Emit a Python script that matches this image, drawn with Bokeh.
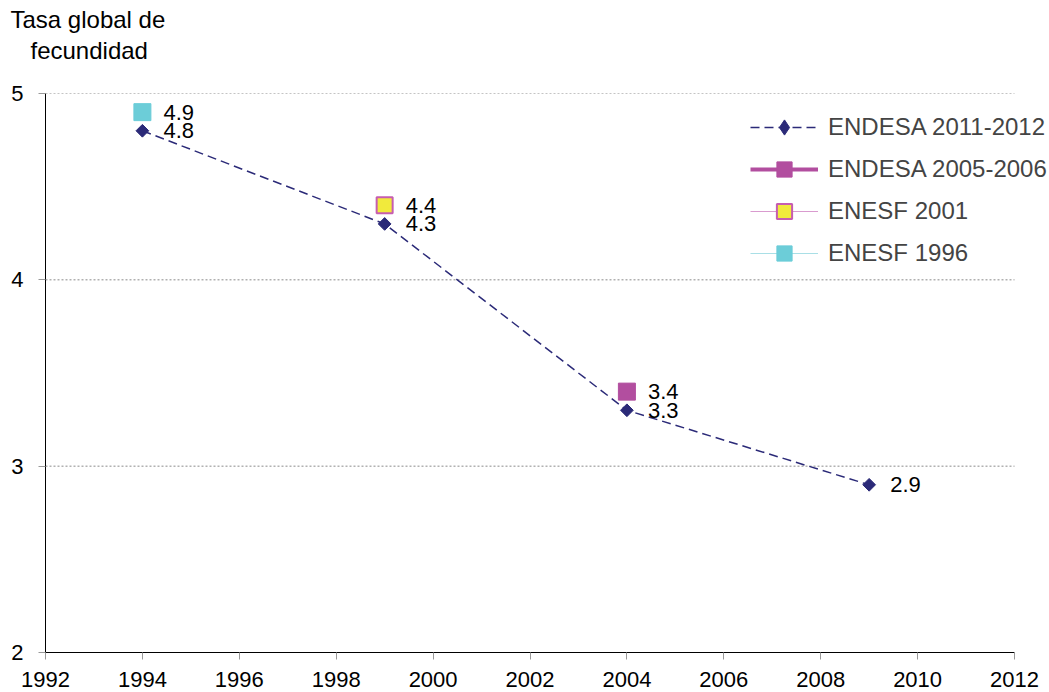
import math
from bokeh.plotting import figure
from bokeh.models import Range1d, FixedTicker, Legend, LegendItem, ColumnDataSource, Title
from bokeh.embed import file_html
from bokeh.resources import INLINE
from bokeh.core.properties import value

# ---- data ----
years_2011 = [1994, 1999, 2004, 2009]
tgf_2011 = [4.8, 4.3, 3.3, 2.9]
years_2005 = [2004]
tgf_2005 = [3.4]
years_2001 = [1999]
tgf_2001 = [4.4]
years_1996 = [1994]
tgf_1996 = [4.9]
series_names = ["ENDESA 2011-2012", "ENDESA 2005-2006", "ENESF 2001", "ENESF 1996"]
x_ticks = list(range(1992, 2013, 2))
y_ticks = [2, 3, 4, 5]
grid_levels = [3, 4, 5]
y_title_lines = ["Tasa global de", "fecundidad"]

FONT = "Liberation Sans"
NAVY = "#2B2A78"
MAGENTA = "#B24E9F"
PINK = "#C65DB0"
YELLOW = "#F1EA3C"
CYAN = "#6CCDD8"

# frame spans 45..1014 px for 1992..2012; extend the range to the right edge so the legend fits
px_per_year = 969 / 20.0
x_end = x_ticks[-1] + 35 / px_per_year

p = figure(width=1049, height=692, output_backend="svg", toolbar_location=None,
           x_range=Range1d(x_ticks[0], x_end), y_range=Range1d(y_ticks[0], y_ticks[-1]),
           min_border_left=45, min_border_right=0, min_border_top=93, min_border_bottom=40)
p.title_location = None
p.outline_line_color = None
p.background_fill_color = "white"
p.border_fill_color = "white"

for ax in (p.xaxis[0], p.yaxis[0]):
    ax.axis_line_color = "black"
    ax.axis_line_width = 1
    ax.major_tick_line_color = "#999999"
    ax.major_tick_in = 0
    ax.major_tick_out = 7
    ax.minor_tick_line_color = None
    ax.major_label_text_font = FONT
    ax.major_label_text_font_size = "22px"
    ax.major_label_text_color = "black"
p.xaxis[0].ticker = FixedTicker(ticks=x_ticks)
p.xaxis[0].bounds = (x_ticks[0], x_ticks[-1])
p.yaxis[0].ticker = FixedTicker(ticks=y_ticks)
p.xaxis[0].major_label_standoff = 12
p.yaxis[0].major_label_standoff = 15

p.xgrid.visible = False
p.ygrid.visible = False
# horizontal dotted gridlines limited to the axis extent
p.segment(x0=[x_ticks[0]] * len(grid_levels), x1=[x_ticks[-1]] * len(grid_levels),
          y0=grid_levels, y1=grid_levels, line_color="#8a8a8a", line_dash="2 2", line_width=1)

# series
src11 = ColumnDataSource(dict(x=years_2011, y=tgf_2011, t=[f"{v:.1f}" for v in tgf_2011]))
l11 = p.line("x", "y", source=src11, line_color=NAVY, line_width=1.5, line_dash="9 5")
m11 = p.scatter("x", "y", source=src11, marker="square", angle=math.pi / 4, size=9,
                fill_color=NAVY, line_color=NAVY)
# legend-only diamond glyph (a point with no y value, so nothing shows in the plot)
m11_leg = p.scatter(x=years_2011[:1], y=[float("nan")], marker="diamond", size=17,
                    fill_color=NAVY, line_color=NAVY)

src05 = ColumnDataSource(dict(x=years_2005, y=tgf_2005, t=[f"{v:.1f}" for v in tgf_2005]))
l05 = p.line("x", "y", source=src05, line_color=MAGENTA, line_width=4)
m05 = p.scatter("x", "y", source=src05, marker="square", size=17,
                fill_color=MAGENTA, line_color=MAGENTA)

src01 = ColumnDataSource(dict(x=years_2001, y=tgf_2001, t=[f"{v:.1f}" for v in tgf_2001]))
l01 = p.line("x", "y", source=src01, line_color="#D99BCF", line_width=1)
m01 = p.scatter("x", "y", source=src01, marker="square", size=16,
                fill_color=YELLOW, line_color=PINK, line_width=2)

src96 = ColumnDataSource(dict(x=years_1996, y=tgf_1996, t=[f"{v:.1f}" for v in tgf_1996]))
l96 = p.line("x", "y", source=src96, line_color="#A9DFE6", line_width=1)
m96 = p.scatter("x", "y", source=src96, marker="square", size=17,
                fill_color=CYAN, line_color=CYAN)

for s in (src11, src05, src01, src96):
    p.text("x", "y", text="t", source=s, x_offset=21, text_baseline="middle",
           text_align="left", text_font=value(FONT), text_font_size="22px",
           text_color="black")

legend = Legend(items=[
    LegendItem(label=series_names[0], renderers=[l11, m11_leg]),
    LegendItem(label=series_names[1], renderers=[l05, m05]),
    LegendItem(label=series_names[2], renderers=[l01, m01]),
    LegendItem(label=series_names[3], renderers=[l96, m96]),
], location=(705, 380), padding=0, margin=0, spacing=4, glyph_height=38,
    glyph_width=68, label_standoff=10, label_text_font=FONT,
    label_text_font_size="24px", background_fill_alpha=0, border_line_color=None)
p.add_layout(legend, "center")

# axis title (two centred lines) stacked above the frame, with a spacer nearest the frame
spacer = Title(text=" ", standoff=0, text_font=FONT, text_font_size="24px")
t_line2 = Title(text=y_title_lines[1], align="left", offset=-15, standoff=2,
                text_font=FONT, text_font_size="24px", text_font_style="normal",
                text_color="black")
t_line1 = Title(text=y_title_lines[0], align="left", offset=-35, standoff=2,
                text_font=FONT, text_font_size="24px", text_font_style="normal",
                text_color="black")
p.add_layout(spacer, "above")
p.add_layout(t_line2, "above")
p.add_layout(t_line1, "above")

open("out.html", "w").write(file_html(p, INLINE))
